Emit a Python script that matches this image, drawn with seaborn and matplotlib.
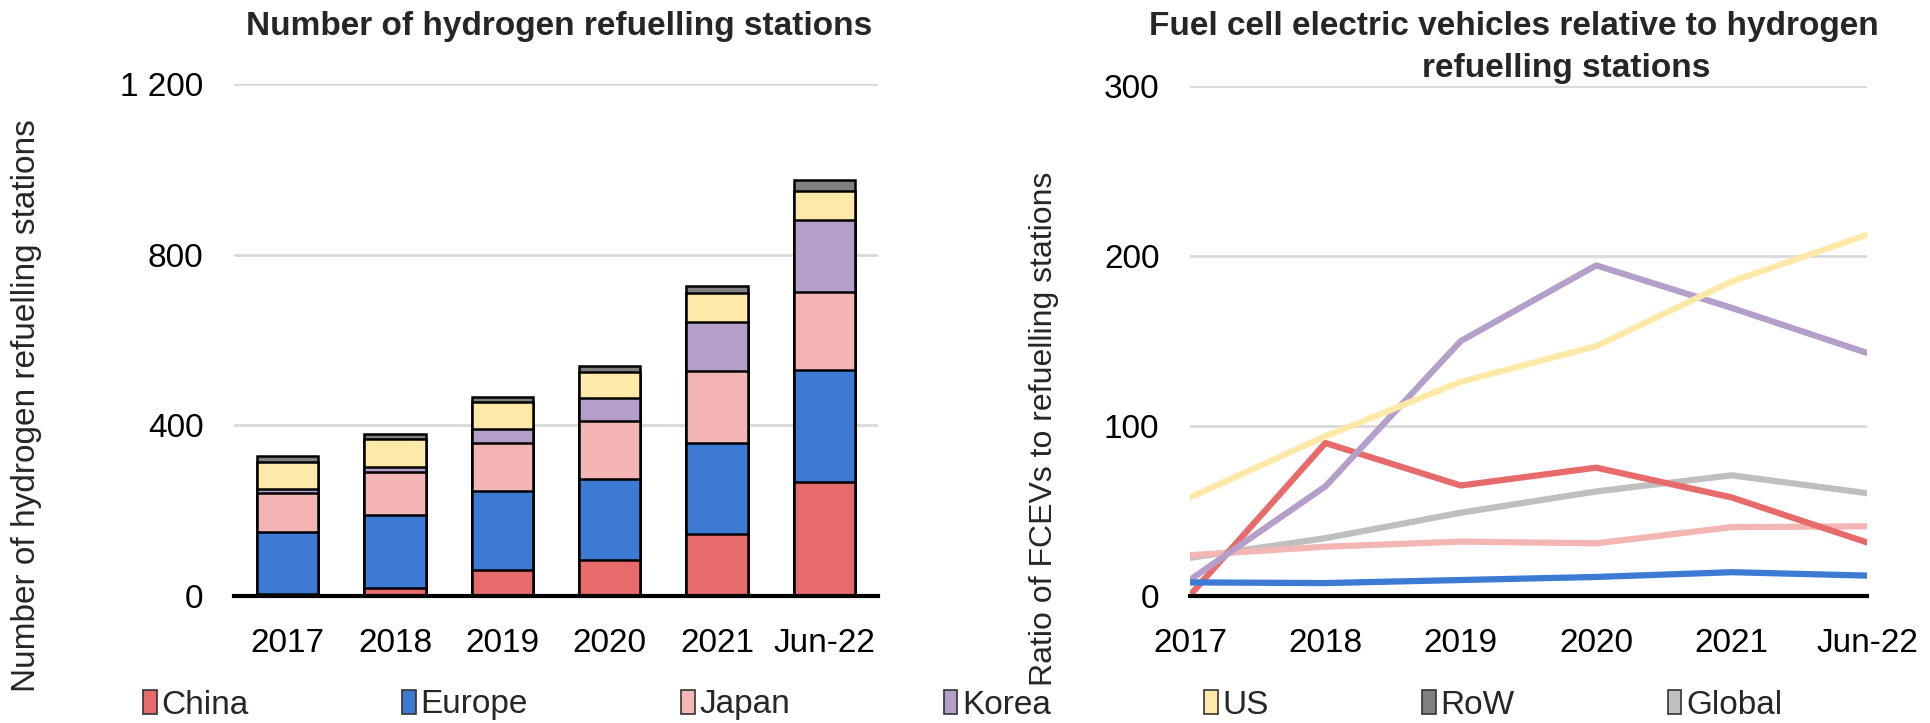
import matplotlib
matplotlib.use("Agg")
import matplotlib.pyplot as plt
from matplotlib.patches import Patch
import seaborn as sns
import pandas as pd
import numpy as np

# ---------------- data ----------------
periods = ["2017", "2018", "2019", "2020", "2021", "Jun-22"]
regions = ["China", "Europe", "Japan", "Korea", "US", "RoW"]

stations_china = [4, 19, 60, 84, 145, 267]
stations_europe = [145, 171, 185, 190, 214, 262]
stations_japan = [92, 100, 114, 136, 168, 183]
stations_korea = [10, 13, 33, 53, 115, 170]
stations_us = [63, 64, 63, 63, 67, 67]
stations_row = [14, 13, 12, 13, 18, 26]

ratio_china = [0.5, 90, 65, 75.5, 58, 31.5]
ratio_europe = [8, 7.6, 9.4, 11.2, 14, 12]
ratio_japan = [24, 29, 32, 31, 40.5, 41]
ratio_korea = [9.5, 64.5, 150, 194.5, 169.5, 143]
ratio_us = [58, 94, 126, 147, 185, 212.5]
ratio_global = [22.5, 34, 49, 61.5, 71, 60.5]

left_title = "Number of hydrogen refuelling stations"
right_title_1 = "Fuel cell electric vehicles relative to hydrogen"
right_title_2 = "refuelling stations"
left_ylabel = "Number of hydrogen refuelling stations"
right_ylabel = "Ratio of FCEVs to refuelling stations"
left_yticks = [0, 400, 800, 1200]
left_yticklabels = ["0", "400", "800", "1 200"]
right_yticks = [0, 100, 200, 300]

colors = {
    "China": "#E86B6B",
    "Europe": "#3D7AD4",
    "Japan": "#F4B6B5",
    "Korea": "#B49FCB",
    "US": "#FFE9A9",
    "RoW": "#808080",
    "Global": "#BFBFBF",
}

# ---------------- style ----------------
sns.set_theme(style="white")
plt.rcParams["font.family"] = ["Liberation Sans", "DejaVu Sans"]
FS = 24

fig = plt.figure(figsize=(19.3, 7.23), dpi=100)
axL = fig.add_axes([234 / 1930, 1 - 596 / 723, (878 - 234) / 1930, (596 - 84) / 723])
axR = fig.add_axes([1190 / 1930, 1 - 596 / 723, (1867 - 1190) / 1930, (596 - 86) / 723])

# ---------------- left: stacked bars ----------------
stack = {
    "China": stations_china,
    "Europe": stations_europe,
    "Japan": stations_japan,
    "Korea": stations_korea,
    "US": stations_us,
    "RoW": stations_row,
}
cum = np.zeros(len(periods))
cums = {}
for r in regions:
    cum = cum + np.array(stack[r], dtype=float)
    cums[r] = cum.copy()

for r in reversed(regions):
    df = pd.DataFrame({"period": periods, "value": cums[r]})
    sns.barplot(data=df, x="period", y="value", ax=axL, color=colors[r],
                saturation=1, width=0.57, edgecolor="black", linewidth=1.8,
                order=periods)

axL.set_ylim(0, 1200)
axL.set_yticks(left_yticks)
axL.set_yticklabels(left_yticklabels)
axL.set_xlabel("")
axL.set_ylabel("")
axL.yaxis.grid(True, color="#D9D9D9", linewidth=2)
axL.set_axisbelow(True)
for s in ["left", "right", "top"]:
    axL.spines[s].set_visible(False)
axL.spines["bottom"].set_color("black")
axL.spines["bottom"].set_linewidth(3)
axL.spines["bottom"].set_zorder(5)
axL.tick_params(axis="both", length=0, labelsize=FS, colors="black")
axL.tick_params(axis="y", pad=22)
axL.tick_params(axis="x", pad=23)

# ---------------- right: lines ----------------
lines = {
    "China": ratio_china,
    "Europe": ratio_europe,
    "Japan": ratio_japan,
    "Korea": ratio_korea,
    "US": ratio_us,
    "Global": ratio_global,
}
rows = []
for name, vals in lines.items():
    for i, v in enumerate(vals):
        rows.append({"x": i, "value": v, "series": name})
ldf = pd.DataFrame(rows)
line_order = ["Global", "Japan", "China", "Korea", "US", "Europe"]
for name in line_order:
    sub = ldf[ldf["series"] == name]
    sns.lineplot(data=sub, x="x", y="value", ax=axR, color=colors[name],
                 linewidth=4.5, sort=False, legend=False)

axR.set_xlim(0, 5)
axR.set_ylim(0, 300)
axR.set_xticks(range(len(periods)))
axR.set_xticklabels(periods)
axR.set_yticks(right_yticks)
axR.set_xlabel("")
axR.set_ylabel("")
axR.yaxis.grid(True, color="#D9D9D9", linewidth=2)
axR.set_axisbelow(True)
for s in ["left", "right", "top"]:
    axR.spines[s].set_visible(False)
axR.spines["bottom"].set_color("black")
axR.spines["bottom"].set_linewidth(3)
axR.tick_params(axis="both", length=0, labelsize=FS, colors="black")
axR.tick_params(axis="y", pad=22)
axR.tick_params(axis="x", pad=23)

# ---------------- titles / labels ----------------
fig.text(559 / 1930, 1 - 27 / 723, left_title, ha="center", va="center",
         fontsize=FS, fontweight="bold")
fig.text(1514 / 1930, 1 - 27 / 723, right_title_1, ha="center", va="center",
         fontsize=FS, fontweight="bold")
fig.text(1566 / 1930, 1 - 68 / 723, right_title_2, ha="center", va="center",
         fontsize=FS, fontweight="bold")
fig.text(27 / 1930, 1 - 406 / 723, left_ylabel, rotation=90, ha="center",
         va="center", fontsize=FS)
fig.text(1044 / 1930, 1 - 429 / 723, right_ylabel, rotation=90, ha="center",
         va="center", fontsize=23)

# ---------------- legend ----------------
leg_names = ["China", "Europe", "Japan", "Korea", "US", "RoW", "Global"]
handles = [Patch(facecolor=colors[n], edgecolor="#333333", linewidth=1.2) for n in leg_names]
fig.legend(handles, leg_names, loc="center", bbox_to_anchor=(963 / 1930, 1 - 705 / 723),
           ncol=7, frameon=False, fontsize=FS, handlelength=0.4, handleheight=0.75,
           handletextpad=0.15, columnspacing=4.6, borderaxespad=0)

fig.savefig("out.png", dpi=100)
